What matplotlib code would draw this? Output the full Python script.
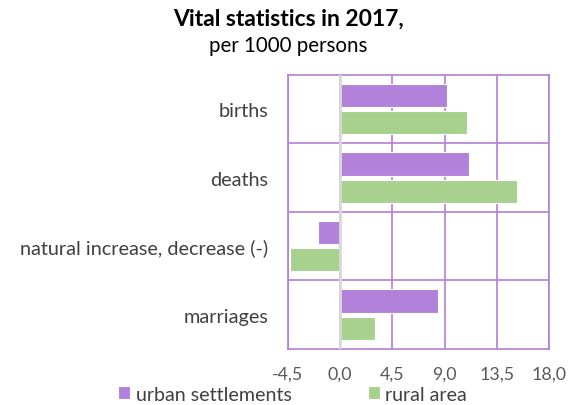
import matplotlib
matplotlib.use("Agg")
import matplotlib.pyplot as plt
import numpy as np

categories = ["births", "deaths", "natural increase, decrease (-)", "marriages"]
urban = [9.2, 11.1, -1.9, 8.4]
rural = [10.9, 15.2, -4.3, 3.0]
x_ticks = [-4.5, 0.0, 4.5, 9.0, 13.5, 18.0]

purple = "#B281D9"
green = "#A9D18E"
grid_col = "#B27FD6"

plt.rcParams["font.family"] = ["Lato", "DejaVu Sans"]

fig = plt.figure(figsize=(5.77, 4.06), dpi=100)
ax = fig.add_axes([0.499, 0.138, 0.453, 0.6755])

y = np.arange(len(categories))
h = 0.34
ax.barh(y - 0.2, urban, height=h, color=purple, edgecolor="white", linewidth=0.8,
        label="urban settlements", zorder=3)
ax.barh(y + 0.2, rural, height=h, color=green, edgecolor="white", linewidth=0.8,
        label="rural area", zorder=3)

ax.set_xlim(-4.5, 18.0)
ax.set_ylim(len(categories) - 0.5, -0.5)
ax.set_xticks(x_ticks)
ax.set_xticklabels([f"{v:.1f}".replace(".", ",") for v in x_ticks])
ax.set_yticks(y)
ax.set_yticklabels(categories)
ax.set_yticks(y[:-1] + 0.5, minor=True)

ax.grid(axis="x", color=grid_col, linewidth=1.2, zorder=0)
ax.grid(axis="y", which="minor", color=grid_col, linewidth=1.2, zorder=0)
ax.axvline(0, color="#D9D9D9", linewidth=2, zorder=4)
for s in ax.spines.values():
    s.set_color(grid_col)
    s.set_linewidth(1.2)

ax.tick_params(axis="both", which="both", length=0)
ax.tick_params(axis="x", labelsize=12.8, labelcolor="#595959", pad=12)
ax.tick_params(axis="y", labelsize=14.3, labelcolor="#404040", pad=14)

fig.text(0.5, 0.953, "Vital statistics in 2017,", ha="center", va="center",
         fontsize=16.5, fontweight="bold", color="#000000")
fig.text(0.5, 0.887, "per 1000 persons", ha="center", va="center",
         fontsize=14.8, color="#000000")

fig.legend(loc="lower left", bbox_to_anchor=(0.2045, 0.006), ncol=2,
           frameon=False, fontsize=14.1, handlelength=0.6, handleheight=0.6,
           handletextpad=0.3, columnspacing=3.9, labelcolor="#404040",
           borderpad=0, borderaxespad=0)

fig.savefig("out.png", dpi=100)
